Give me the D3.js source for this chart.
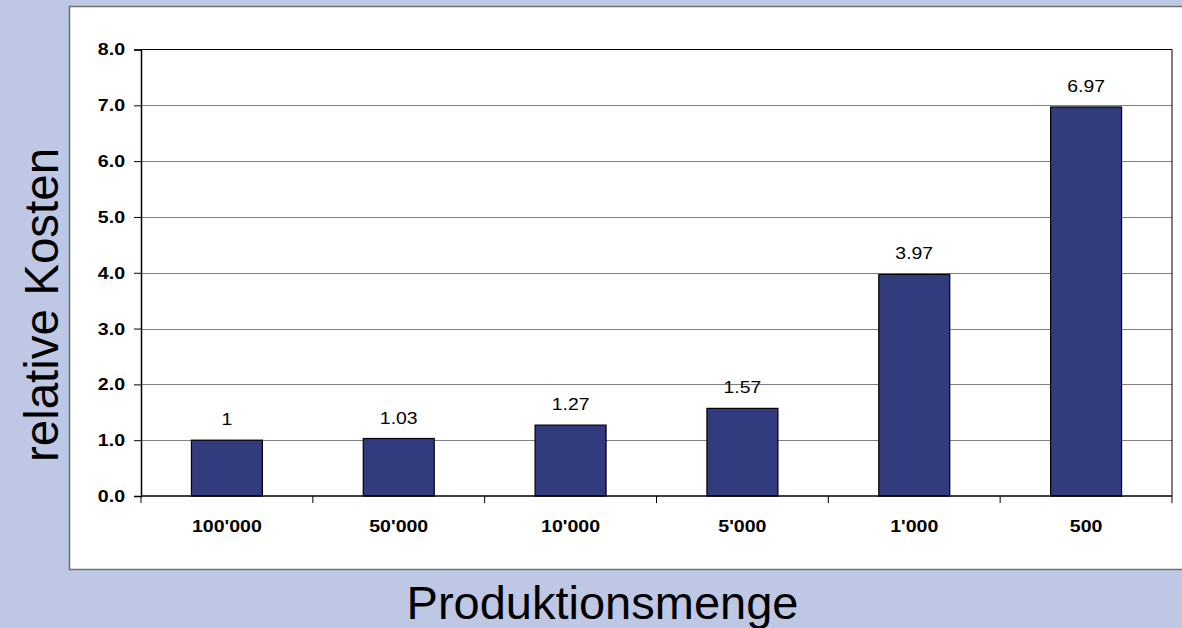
<!DOCTYPE html>
<html>
<head>
<meta charset="utf-8">
<script src="https://cdn.jsdelivr.net/npm/d3@7"></script>
<style>
  html, body { margin: 0; padding: 0; background: #BEC8E4; }
  svg { display: block; font-family: Arial, "Liberation Sans", sans-serif; }
</style>
</head>
<body>
<script>
const categories = ["100'000", "50'000", "10'000", "5'000", "1'000", "500"];
const values = [1, 1.03, 1.27, 1.57, 3.97, 6.97];
const valueLabels = ["1", "1.03", "1.27", "1.57", "3.97", "6.97"];
const yTicks = [0, 1, 2, 3, 4, 5, 6, 7, 8];
const yTitle = "relative Kosten";
const xTitle = "Produktionsmenge";

const W = 1182, H = 628;
const svg = d3.select("body").append("svg").attr("width", W).attr("height", H);

svg.append("rect").attr("x", 0).attr("y", 0).attr("width", W).attr("height", H).attr("fill", "#BEC8E4");
// white chart panel
svg.append("rect").attr("x", 69.5).attr("y", 6.5).attr("width", 1200).attr("height", 563)
  .attr("fill", "#ffffff").attr("stroke", "#6f6f6f").attr("stroke-width", 1.5);

const plot = { left: 141, right: 1172, top: 49.5, bottom: 496 };

const x = d3.scaleBand().domain(categories).range([plot.left, plot.right])
  .paddingInner(0.587).paddingOuter(0.2935);
const xCat = d3.scaleBand().domain(categories).range([plot.left, plot.right]).padding(0);
const y = d3.scaleLinear().domain([0, 8]).range([plot.bottom, plot.top]);

const g = svg.append("g");

// gridlines
g.selectAll("line.grid").data(yTicks.filter(t => t > 0 && t < 8)).enter().append("line")
  .attr("x1", plot.left).attr("x2", plot.right)
  .attr("y1", d => Math.round(y(d)) + 0.5).attr("y2", d => Math.round(y(d)) + 0.5)
  .attr("stroke", "#808080").attr("stroke-width", 1);

// plot border top & right
g.append("line").attr("x1", plot.left).attr("x2", plot.right).attr("y1", y(8)).attr("y2", y(8))
  .attr("stroke", "#000").attr("stroke-width", 1);
g.append("line").attr("x1", plot.right).attr("x2", plot.right).attr("y1", y(8)).attr("y2", plot.bottom)
  .attr("stroke", "#000").attr("stroke-width", 1);

// bars
g.selectAll("rect.bar").data(categories).enter().append("rect")
  .attr("x", d => x(d)).attr("width", x.bandwidth())
  .attr("y", (d, i) => y(values[i])).attr("height", (d, i) => y(0) - y(values[i]))
  .attr("fill", "#333B7F").attr("stroke", "#000").attr("stroke-width", 1.2);

function widen(sel, f) {
  sel.each(function() {
    const w = this.getComputedTextLength();
    d3.select(this).attr("textLength", w * f).attr("lengthAdjust", "spacingAndGlyphs");
  });
}

// value labels
g.selectAll("text.val").data(categories).enter().append("text")
  .attr("x", d => x(d) + x.bandwidth() / 2)
  .attr("y", (d, i) => y(values[i]) - 15)
  .attr("text-anchor", "middle").attr("font-size", 17).attr("fill", "#000")
  .text((d, i) => valueLabels[i])
  .call(widen, 1.14);

// y axis
const yAxis = d3.axisLeft(y).tickValues(yTicks).tickFormat(d3.format(".1f")).tickSize(7).tickPadding(9);
const ya = svg.append("g").attr("transform", `translate(${plot.left},0)`).call(yAxis);
ya.select(".domain").attr("stroke", "#000").attr("stroke-width", 1.5);
ya.selectAll(".tick line").attr("stroke", "#000");
ya.selectAll(".tick text").attr("font-size", 17).attr("font-weight", "bold").attr("fill", "#000")
  .attr("font-family", "Arial, 'Liberation Sans', sans-serif").call(widen, 1.15);

// x axis (ticks at category boundaries)
const xa = svg.append("g").attr("transform", `translate(0,${plot.bottom})`);
xa.append("line").attr("x1", plot.left).attr("x2", plot.right).attr("y1", 0).attr("y2", 0)
  .attr("stroke", "#000").attr("stroke-width", 1.5);
const bounds = categories.map(c => xCat(c)).concat([plot.right]);
xa.selectAll("line.tk").data(bounds).enter().append("line")
  .attr("x1", d => d).attr("x2", d => d).attr("y1", 0).attr("y2", 7)
  .attr("stroke", "#000").attr("stroke-width", 1);
xa.selectAll("text.lbl").data(categories).enter().append("text")
  .attr("x", d => xCat(d) + xCat.bandwidth() / 2).attr("y", 36)
  .attr("text-anchor", "middle").attr("font-size", 17).attr("font-weight", "bold").attr("fill", "#000")
  .text(d => d).call(widen, 1.15);

// axis titles
svg.append("text").attr("transform", "translate(58,305) rotate(-90)")
  .attr("text-anchor", "middle").attr("font-size", 47.5).attr("fill", "#000").text(yTitle);
svg.append("text").attr("x", 602.5).attr("y", 619)
  .attr("text-anchor", "middle").attr("font-size", 47).attr("fill", "#000").text(xTitle);
</script>
</body>
</html>
